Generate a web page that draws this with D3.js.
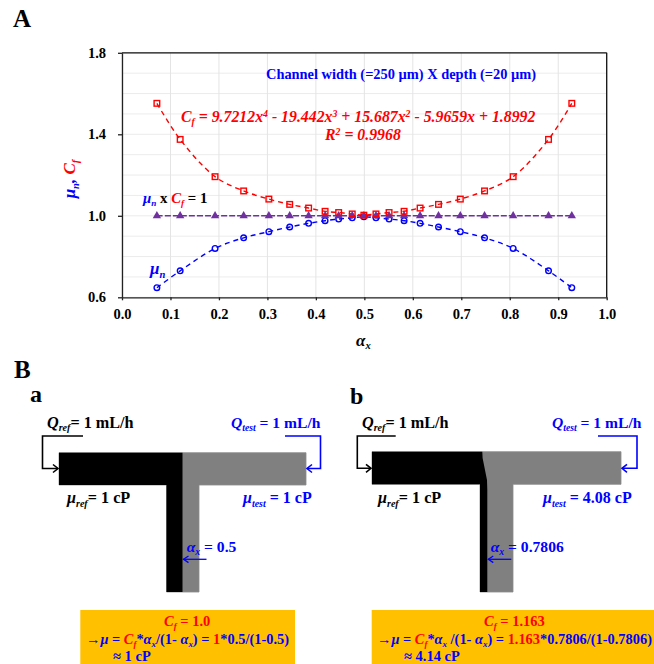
<!DOCTYPE html>
<html>
<head>
<meta charset="utf-8">
<script src="https://cdn.jsdelivr.net/npm/d3@7"></script>
<style>
  body { margin: 0; background: #fff; }
  text { font-family: "Liberation Serif", serif; font-weight: bold; }
</style>
</head>
<body>
<svg id="chart" width="654" height="664"></svg>
<script>
// values
const alphaX = [0.072, 0.120, 0.192, 0.251, 0.303, 0.346, 0.385, 0.419, 0.447, 0.475, 0.499,
  0.524, 0.551, 0.582, 0.615, 0.653, 0.698, 0.748, 0.807, 0.880, 0.928];
const cf = [1.552, 1.375, 1.192, 1.122, 1.082, 1.056, 1.038, 1.022, 1.016, 1.009, 1.003,
  1.009, 1.016, 1.022, 1.038, 1.056, 1.082, 1.122, 1.192, 1.375, 1.552];
const muN = [0.647, 0.730, 0.840, 0.892, 0.922, 0.945, 0.963, 0.976, 0.984, 0.990, 0.995,
  0.990, 0.984, 0.976, 0.963, 0.945, 0.922, 0.892, 0.840, 0.730, 0.647];
const muCf = [1, 1, 1, 1, 1, 1, 1, 1, 1, 1, 1, 1, 1, 1, 1, 1, 1, 1, 1, 1, 1];

const xTicks = [0, 0.1, 0.2, 0.3, 0.4, 0.5, 0.6, 0.7, 0.8, 0.9, 1.0];
const yTicks = [0.6, 1.0, 1.4, 1.8];
const yGrid = [0.6, 0.7, 0.8, 0.9, 1.0, 1.1, 1.2, 1.3, 1.4, 1.5, 1.6, 1.7, 1.8];

const RED = "#ff0000", BLUE = "#0000ff", PURPLE = "#7030a0", BLACK = "#000";

let svg = d3.select("#chart");

let x = d3.scaleLinear().domain([0, 1]).range([122, 606.7]);
let y = d3.scaleLinear().domain([0.6, 1.8]).range([297.3, 52.8]);

// text made of coloured runs: [string, colour, flags], i = italic, s = subscript, u = superscript
function label(px, py, size, parts, anchor) {
  let t = svg.append("text")
    .attr("x", px).attr("y", py)
    .attr("font-size", size)
    .attr("text-anchor", anchor || "start");
  let shift = 0;
  parts.forEach(p => {
    let flags = p[2] || "";
    let next = flags.includes("s") ? size * 0.22 : flags.includes("u") ? -size * 0.3 : 0;
    t.append("tspan")
      .attr("dy", next - shift)
      .attr("fill", p[1])
      .attr("font-style", flags.includes("i") ? "italic" : "normal")
      .attr("font-size", flags.includes("s") || flags.includes("u") ? size * 0.62 : size)
      .text(p[0]);
    shift = next;
  });
  return t;
}

// ---- panel A
svg.append("g").selectAll("line").data(yGrid).join("line")
  .attr("x1", x(0)).attr("x2", x(1))
  .attr("y1", d => y(d)).attr("y2", d => y(d))
  .attr("stroke", "#ececec");
svg.append("g").selectAll("line").data(xTicks).join("line")
  .attr("x1", d => x(d)).attr("x2", d => x(d))
  .attr("y1", y(0.6)).attr("y2", y(1.8))
  .attr("stroke", "#e4e4e4");

let xAxis = svg.append("g")
  .attr("transform", "translate(0," + y(0.6) + ")")
  .call(d3.axisBottom(x).tickValues(xTicks).tickFormat(d3.format(".1f")).tickSize(3).tickSizeOuter(0));
let yAxis = svg.append("g")
  .attr("transform", "translate(" + x(0) + ",0)")
  .call(d3.axisLeft(y).tickValues(yTicks).tickFormat(d3.format(".1f")).tickSize(4).tickSizeOuter(0));
[xAxis, yAxis].forEach(a => {
  a.selectAll("path, line").attr("stroke", "#222").attr("stroke-width", 1.3);
  a.selectAll("text").attr("font-size", 14.5).attr("fill", "#000")
    .style("font-family", '"Liberation Serif", serif').style("font-weight", "bold");
});
xAxis.selectAll("text").attr("dy", null).attr("y", 21.5);
yAxis.selectAll("text").attr("x", -16);

svg.append("line").attr("x1", x(0)).attr("x2", x(1)).attr("y1", y(1.8)).attr("y2", y(1.8))
  .attr("stroke", "#111").attr("stroke-width", 1.3);
svg.append("line").attr("x1", x(1)).attr("x2", x(1)).attr("y1", y(1.8)).attr("y2", y(0.6))
  .attr("stroke", "#111").attr("stroke-width", 1.3);

function series(values, color, dash) {
  let line = d3.line().x((d, i) => x(alphaX[i])).y(d => y(d)).curve(d3.curveCatmullRom);
  svg.append("path")
    .attr("d", line(values))
    .attr("fill", "none")
    .attr("stroke", color)
    .attr("stroke-width", 1.4)
    .attr("stroke-dasharray", dash);
}
series(muN, BLUE, "5,4");
series(muCf, PURPLE, "6,2");
series(cf, RED, "5,4");

svg.append("g").selectAll("circle").data(muN).join("circle")
  .attr("cx", (d, i) => x(alphaX[i])).attr("cy", d => y(d)).attr("r", 2.8)
  .attr("fill", "none").attr("stroke", BLUE).attr("stroke-width", 1.4);
svg.append("g").selectAll("path").data(muCf).join("path")
  .attr("transform", (d, i) => "translate(" + x(alphaX[i]) + "," + y(d) + ")")
  .attr("d", d3.symbol(d3.symbolTriangle, 30))
  .attr("fill", PURPLE);
svg.append("g").selectAll("rect").data(cf).join("rect")
  .attr("x", (d, i) => x(alphaX[i]) - 2.8).attr("y", d => y(d) - 2.8)
  .attr("width", 5.6).attr("height", 5.6)
  .attr("fill", "none").attr("stroke", RED).attr("stroke-width", 1.4);

label(13, 27, 25, [["A", BLACK]]);
label(266, 78.5, 14.4, [["Channel width (=250 µm) X depth (=20 µm)", BLUE]]);
label(181, 121.5, 15.8, [["C", RED, "i"], ["f", RED, "is"], [" = 9.7212x", RED, "i"], ["4", RED, "iu"],
  [" - 19.442x", RED, "i"], ["3", RED, "iu"], [" + 15.687x", RED, "i"], ["2", RED, "iu"],
  [" - 5.9659x + 1.8992", RED, "i"]]);
label(325, 140, 15.8, [["R", RED, "i"], ["2", RED, "iu"], [" = 0.9968", RED, "i"]]);
label(143, 203, 14.8, [["μ", BLUE, "i"], ["n", BLUE, "is"], [" x ", BLACK], ["C", RED, "i"], ["f", RED, "is"], [" = 1", BLACK]]);
label(150, 274, 17, [["μ", BLUE, "i"], ["n", BLUE, "is"]]);
label(0, 0, 17, [["μ", BLUE, "i"], ["n", BLUE, "is"], [",", BLUE, "i"], [" C", RED, "i"], ["f", RED, "is"]], "middle")
  .attr("x", null).attr("y", null)
  .attr("transform", "translate(75,179) rotate(-90)");
label(356, 345.5, 17, [["α", BLACK, "i"], ["x", BLACK, "is"]]);

// ---- panel B
label(14, 378, 25, [["B", BLACK]]);
label(30, 402, 24, [["a", BLACK]]);
label(350, 404, 24, [["b", BLACK]]);

const elbow = d3.line();

// one T channel with its inlet arrows
function tChannel(c) {
  const edge = "#8c8c8c";
  // grey part first, the black stream on top of it
  svg.append("path")
    .attr("d", elbow([[c.left, c.top], [c.right, c.top], [c.right, c.bottom], [c.stemR, c.bottom],
      [c.stemR, c.end], [c.stemL, c.end], [c.stemL, c.bottom], [c.left, c.bottom]]) + "Z")
    .attr("fill", "#808080").attr("stroke", edge).attr("stroke-width", 0.8);
  svg.append("path")
    .attr("d", elbow([[c.left, c.top]].concat(c.interface, [[c.stemSplit, c.end], [c.stemL, c.end],
      [c.stemL, c.bottom], [c.left, c.bottom]])) + "Z")
    .attr("fill", "#000");

  [[c.refFrom, c.refOut, c.left - 1, BLACK], [c.testFrom, c.testOut, c.right + 1, BLUE]].forEach(a => {
    let dir = a[2] > a[1] ? 1 : -1;
    svg.append("path")
      .attr("d", elbow([[a[0], c.armY], [a[1], c.armY], [a[1], c.inY], [a[2], c.inY]]))
      .attr("fill", "none").attr("stroke", a[3]).attr("stroke-width", 1.6);
    svg.append("path")
      .attr("d", elbow([[a[2] - dir * 5, c.inY - 4], [a[2], c.inY], [a[2] - dir * 5, c.inY + 4]]))
      .attr("fill", "none").attr("stroke", a[3]).attr("stroke-width", 1.6);
  });

  // alpha_x pointer
  svg.append("path")
    .attr("d", elbow([[c.stemSplit + 24, 559.3], [c.stemSplit + 1, 559.3]]))
    .attr("stroke", BLUE).attr("stroke-width", 1.3);
  svg.append("path")
    .attr("d", elbow([[c.stemSplit + 6, 556], [c.stemSplit + 1, 559.3], [c.stemSplit + 6, 562.6]]))
    .attr("fill", "none").attr("stroke", BLUE).attr("stroke-width", 1.3);

  svg.append("rect")
    .attr("x", c.boxX).attr("y", 610).attr("width", c.boxW).attr("height", 54)
    .attr("fill", "#ffc000");
}

tChannel({
  left: 59, right: 306, top: 452.7, bottom: 485, stemL: 166.5, stemR: 199, end: 592,
  interface: [[182.5, 452.7]], stemSplit: 182.5,
  refFrom: 83, refOut: 42.5, testFrom: 285, testOut: 320.5, armY: 436, inY: 468.5,
  boxX: 80.3, boxW: 214.7
});
tChannel({
  left: 372, right: 621, top: 451.7, bottom: 484.3, stemL: 480, stemR: 513, end: 592,
  interface: [[482.3, 451.7], [482.6, 458], [487, 480], [487.3, 490]], stemSplit: 487.3,
  refFrom: 395.7, refOut: 357.3, testFrom: 598, testOut: 637, armY: 436, inY: 468.3,
  boxX: 371.7, boxW: 282.3
});

const Q_REF = [["Q", BLACK, "i"], ["ref", BLACK, "is"], ["= 1 mL/h", BLACK]];
const Q_TEST = [["Q", BLUE, "i"], ["test", BLUE, "is"], [" = 1 mL/h", BLUE]];
const MU_REF = [["μ", BLACK, "i"], ["ref", BLACK, "is"], ["= 1 cP", BLACK]];

label(47, 427.5, 16.2, Q_REF);
label(231, 427.5, 15.6, Q_TEST);
label(67, 503, 16.2, MU_REF);
label(243, 503, 16, [["μ", BLUE, "i"], ["test", BLUE, "is"], [" = 1 cP", BLUE]]);
label(186.7, 551.7, 15.6, [["α", BLUE, "i"], ["x", BLUE, "is"], [" = 0.5", BLUE]]);

label(362, 427.5, 16.2, Q_REF);
label(552, 427.5, 15.6, Q_TEST);
label(378, 503, 16.2, MU_REF);
label(543, 503, 16, [["μ", BLUE, "i"], ["test", BLUE, "is"], [" = 4.08 cP", BLUE]]);
label(490.7, 551.7, 15.6, [["α", BLUE, "i"], ["x", BLUE, "is"], [" = 0.7806", BLUE]]);

const CF_I = [["C", RED, "i"], ["f", RED, "is"]];
const ALPHA_I = [["α", BLUE, "i"], ["x", BLUE, "is"]];

label(164, 626, 14.5, CF_I.concat([[" = 1.0", RED]]));
label(86, 644, 14.4, [["→", BLUE], ["μ", BLUE, "i"], [" = ", BLUE]].concat(CF_I, [["*", BLUE]], ALPHA_I,
  [["/(1- ", BLUE]], ALPHA_I, [[") = ", BLUE], ["1", RED], ["*0.5/(1-0.5)", BLUE]]));
label(113, 661, 14.5, [["≈ 1 cP", BLUE]]);

label(484, 626, 14.5, CF_I.concat([[" = 1.163", RED]]));
label(377, 644, 14.4, [["→", BLUE], ["μ", BLUE, "i"], [" = ", BLUE]].concat(CF_I, [["*", BLUE]], ALPHA_I,
  [[" /(1- ", BLUE]], ALPHA_I, [[") = ", BLUE], ["1.163", RED], ["*0.7806/(1-0.7806)", BLUE]]));
label(404, 661, 14.5, [["≈ 4.14 cP", BLUE]]);
</script>
</body>
</html>
